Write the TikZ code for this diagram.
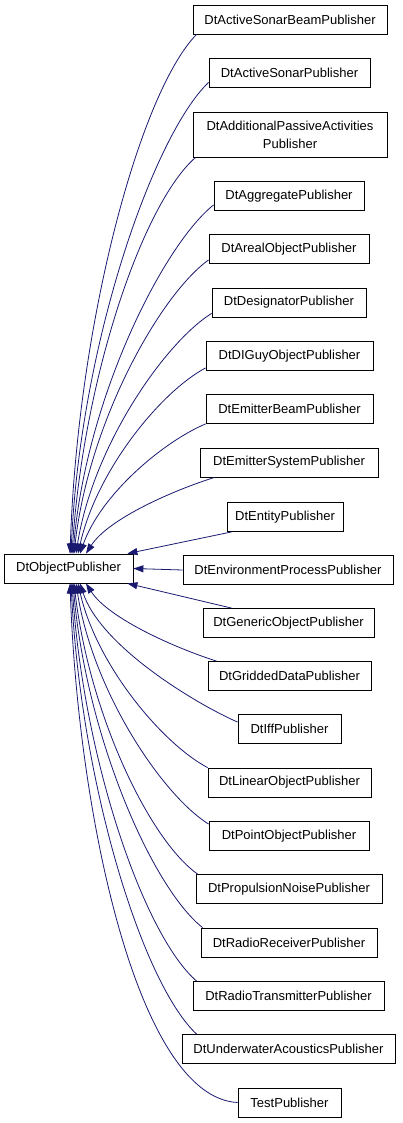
\documentclass[tikz,border=0pt]{standalone}
\usepackage{fontspec}
\setmainfont{Liberation Sans}
\usetikzlibrary{arrows.meta}
\definecolor{edgeblue}{HTML}{191970}
\begin{document}
\begin{tikzpicture}[x=1pt,y=-1pt]
\tikzstyle{cls}=[draw,line width=0.8pt,minimum height=29pt,inner sep=0pt,font=\fontsize{13pt}{18pt}\selectfont];
\tikzstyle{inh}=[-{Triangle[length=10pt,width=7pt]},edgeblue,line width=0.8pt];
\useasboundingbox (0,0) rectangle (403,1123);

\node [cls,minimum width=129pt] (obj) at (68.5,568.5) {DtObjectPublisher};

\node [cls,minimum width=194pt] (asb) at (290,19.5) {DtActiveSonarBeamPublisher};
\node [cls,minimum width=161pt] (as) at (289.5,72.5) {DtActiveSonarPublisher};
\node [cls,minimum width=194pt,minimum height=45pt,align=center] (apa) at (290,134.5) {DtAdditionalPassiveActivities\\Publisher};
\node [cls,minimum width=150pt] (agg) at (289,196) {DtAggregatePublisher};
\node [cls,minimum width=160pt] (are) at (289,249) {DtArealObjectPublisher};
\node [cls,minimum width=154pt] (des) at (289,302.5) {DtDesignatorPublisher};
\node [cls,minimum width=167pt] (dig) at (289.5,356) {DtDIGuyObjectPublisher};
\node [cls,minimum width=167pt] (emb) at (289.5,409) {DtEmitterBeamPublisher};
\node [cls,minimum width=178pt] (ems) at (289,462.5) {DtEmitterSystemPublisher};
\node [cls,minimum width=116pt] (ent) at (285,517) {DtEntityPublisher};
\node [cls,minimum width=210pt] (env) at (288,570) {DtEnvironmentProcessPublisher};
\node [cls,minimum width=171pt] (gen) at (288.5,623) {DtGenericObjectPublisher};
\node [cls,minimum width=163pt] (grd) at (289.5,676) {DtGriddedDataPublisher};
\node [cls,minimum width=103pt] (iff) at (289.5,729) {DtIffPublisher};
\node [cls,minimum width=163pt] (lin) at (289.5,782.5) {DtLinearObjectPublisher};
\node [cls,minimum width=160pt] (pnt) at (289,836) {DtPointObjectPublisher};
\node [cls,minimum width=186pt] (prn) at (289,889) {DtPropulsionNoisePublisher};
\node [cls,minimum width=176pt] (rrc) at (289,942.5) {DtRadioReceiverPublisher};
\node [cls,minimum width=191pt] (rtx) at (288.5,996) {DtRadioTransmitterPublisher};
\node [cls,minimum width=213pt] (uwa) at (288.5,1049) {DtUnderwaterAcousticsPublisher};
\node [cls,minimum width=103pt] (tst) at (289.5,1102.5) {TestPublisher};

\draw [inh] ([xshift=4pt]asb.south west) .. controls +(-56,57) and +(8,-234) .. ([xshift=1.5pt]obj.north);
\draw [inh] ([yshift=5pt]as.south west) .. controls +(-54.5,52) and +(9.4,-212) .. ([xshift=2.5pt]obj.north);
\draw [inh] ([xshift=3pt]apa.south west) .. controls +(-52,45) and +(12,-179) .. ([xshift=3.5pt]obj.north);
\draw [inh] ([yshift=6pt]agg.south west) .. controls +(-50,40) and +(13.5,-157) .. ([xshift=4.5pt]obj.north);
\draw [inh] ([yshift=4pt]are.south west) .. controls +(-48,34.5) and +(15,-133) .. ([xshift=5.5pt]obj.north);
\draw [inh] ([yshift=4pt]des.south west) .. controls +(-46.5,29) and +(17,-108) .. ([xshift=7.5pt]obj.north);
\draw [inh] ([yshift=3pt]dig.south west) .. controls +(-44.5,23.7) and +(19,-84) .. ([xshift=9.5pt]obj.north);
\draw [inh] (emb.south west) .. controls +(-42.6,18) and +(20.7,-59) .. ([xshift=11.5pt]obj.north);
\draw [inh] ([xshift=15pt]ems.south west) .. controls +(-40.7,12.7) and +(22.5,-35) .. ([xshift=17.5pt]obj.north);
\draw [inh] ([xshift=5pt]ent.south west) -- ([xshift=-6pt]obj.north east);
\draw [inh] (env.west) -- (obj.east);
\draw [inh] ([xshift=29pt]gen.north west) -- ([xshift=-6pt]obj.south east);
\draw [inh] ([xshift=9pt]grd.north west) .. controls +(-40.7,-12.8) and +(22.4,35) .. ([xshift=17.5pt]obj.south);
\draw [inh] ([yshift=-8pt]iff.north west) .. controls +(-42.9,-18.9) and +(20.4,62.6) .. ([xshift=11.5pt]obj.south);
\draw [inh] (lin.north west) .. controls +(-44.4,-23.4) and +(18.9,82.8) .. ([xshift=9.5pt]obj.south);
\draw [inh] ([yshift=-3pt]pnt.north west) .. controls +(-46.4,-29.1) and +(17,108.5) .. ([xshift=7.5pt]obj.south);
\draw [inh] ([xshift=2pt]prn.north west) .. controls +(-48.2,-34.1) and +(15.4,131) .. ([xshift=5.5pt]obj.south);
\draw [inh] ([xshift=2pt]rrc.north west) .. controls +(-50,-39.4) and +(13.6,154.8) .. ([xshift=4.5pt]obj.south);
\draw [inh] ([xshift=4pt]rtx.north west) .. controls +(-51.9,-44.8) and +(11.9,179) .. ([xshift=3.5pt]obj.south);
\draw [inh] ([xshift=15pt]uwa.north west) .. controls +(-53.8,-50.1) and +(10.1,203) .. ([xshift=2.5pt]obj.south);
\draw [inh] (tst.west) .. controls +(-100,-5) and +(8,232) .. ([xshift=1.5pt]obj.south);
\end{tikzpicture}
\end{document}
